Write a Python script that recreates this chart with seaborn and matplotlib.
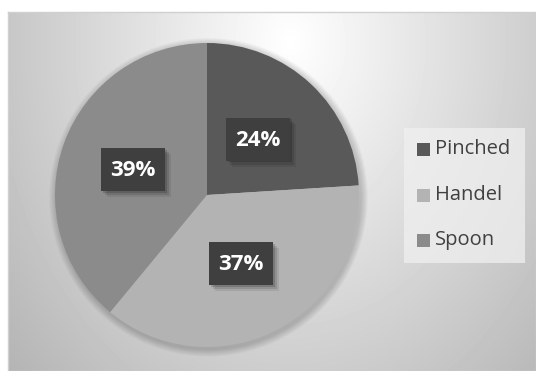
import numpy as np
import matplotlib
matplotlib.use("Agg")
import matplotlib.pyplot as plt
import seaborn as sns
from matplotlib.patches import Rectangle, Circle

categories = ["Pinched", "Handel", "Spoon"]
values = [24, 37, 39]
labels = ["24%", "37%", "39%"]
colors = ["#595959", "#b3b3b3", "#8b8b8b"]

sns.set_theme(style="white")
plt.rcParams['font.family'] = ['Open Sans', 'DejaVu Sans']

W, H = 536, 371
fig = plt.figure(figsize=(W / 100, H / 100), dpi=100)
fig.patch.set_facecolor("white")

def px_rect(x, y, w, h, **kw):
    """Rectangle given in pixel coords from top-left."""
    r = Rectangle((x / W, 1 - (y + h) / H), w / W, h / H, transform=fig.transFigure, **kw)
    fig.patches.append(r)
    return r

# background gradient panel
x0, y0 = 8, 12
bg = fig.add_axes([x0 / W, 0, 1 - x0 / W, (H - y0) / H])
yy, xx = np.mgrid[0:H - y0, 0:W - x0]
cx, cy = 290 - x0, 30
d = np.sqrt(((xx - cx) / 320.0) ** 2 + ((yy - cy) / 420.0) ** 2)
g = np.clip(1.0 - 0.25 * d, 0, 1)
bg.imshow(g, cmap="gray", vmin=0, vmax=1, aspect="auto", interpolation="bilinear")
bg.set_xticks([]); bg.set_yticks([])
for s in bg.spines.values():
    s.set_color("#d0d0d0"); s.set_linewidth(1)

# pie
cxp, cyp, r = 207, 195, 152
ax = fig.add_axes([(cxp - r) / W, (H - cyp - r) / H, 2 * r / W, 2 * r / H])
ax.set_facecolor("none")
# soft shadow behind the pie
for k in range(8):
    rr = 1.0 + (8 - k) * 0.006
    ax.add_patch(Circle((0.01, -0.015), rr, facecolor="black", edgecolor="none",
                        alpha=0.025, zorder=0, clip_on=False))
wedges, _ = ax.pie(values, colors=colors, startangle=90, counterclock=False,
                   radius=1.0, wedgeprops=dict(linewidth=0, zorder=2))
ax.set_xlim(-1, 1); ax.set_ylim(-1, 1)
ax.set_aspect("equal")

# data labels (boxes with soft shadow)
label_pos = [(258, 139), (241, 263), (133, 169)]
bw, bh = 64, 43
for (px, py), lab in zip(label_pos, labels):
    for k, a in [(6, 0.08), (4, 0.12), (2, 0.16)]:
        px_rect(px - bw / 2 + k, py - bh / 2 + k, bw, bh, facecolor="black",
                edgecolor="none", alpha=a, zorder=4)
    px_rect(px - bw / 2, py - bh / 2, bw, bh, facecolor="#3f3f3f", edgecolor="none", zorder=5)
    fig.text(px / W, 1 - (py + 1) / H, lab, ha="center", va="center", fontsize=16,
             fontweight="bold", color="white", zorder=6)

# legend
px_rect(404, 128, 121, 135, facecolor="#f0f0f0", edgecolor="none", alpha=0.75)
leg_y = [149.5, 195.5, 240]
for cat, col, ly in zip(categories, colors, leg_y):
    px_rect(417, ly - 6.5, 13, 13, facecolor=col, edgecolor="none")
    fig.text(435 / W, 1 - (ly - 0.5) / H, cat, ha="left", va="center", fontsize=14.5, color="#404040")

fig.savefig("out.png", dpi=100, facecolor="white")
